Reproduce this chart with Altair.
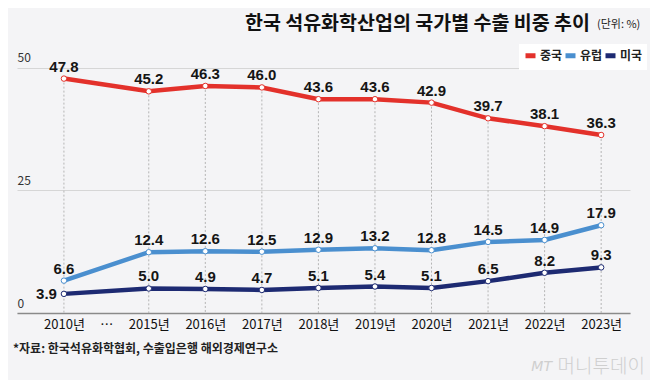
import altair as alt
import pandas as pd

years = ["2010", "2015", "2016", "2017", "2018", "2019", "2020", "2021", "2022", "2023"]
pos = [0, 1.5, 2.5, 3.5, 4.5, 5.5, 6.5, 7.5, 8.5, 9.5]
series = ["중국", "유럽", "미국"]
china = [47.8, 45.2, 46.3, 46.0, 43.6, 43.6, 42.9, 39.7, 38.1, 36.3]
europe = [6.6, 12.4, 12.6, 12.5, 12.9, 13.2, 12.8, 14.5, 14.9, 17.9]
usa = [3.9, 5.0, 4.9, 4.7, 5.1, 5.4, 5.1, 6.5, 8.2, 9.3]
colors = ["#e3312b", "#4a8fcf", "#1d2a72"]
axis_values = [0, 0.75, 1.5, 2.5, 3.5, 4.5, 5.5, 6.5, 7.5, 8.5, 9.5]

rows = []
for s, vals in zip(series, [china, europe, usa]):
    for y, p, v in zip(years, pos, vals):
        side = "left" if (s == "미국" and y == "2010") else "top"
        rows.append({"series": s, "year": y, "pos": p, "value": v,
                     "label": f"{v:.1f}", "side": side})
df = pd.DataFrame(rows)
top_df = pd.DataFrame({"pos": pos, "value": china})

FONT = "Noto Sans CJK KR"

xscale = alt.Scale(domain=[-0.83, 10.01], nice=False, zero=False)
yscale = alt.Scale(domain=[0, 52], nice=False)
cscale = alt.Scale(domain=series, range=colors)

xaxis = alt.Axis(
    values=axis_values, title=None, grid=False, ticks=False,
    labelExpr="datum.value == 0 ? '2010년' : (datum.value == 0.75 ? '…' : round(datum.value + 2013.5) + '년')",
    labelFont=FONT, labelFontSize=13, labelColor="#111", labelPadding=5,
    domainColor="#8a8a8a", domainWidth=1.5,
)
yaxis = alt.Axis(
    values=[0, 25, 50], title=None, ticks=False, domain=False,
    labelAlign="left", labelBaseline="bottom", labelPadding=0,
    labelOffset=-3, labelFont=FONT, labelFontSize=12, labelColor="#333",
    gridColor="#d6d6d6", gridWidth=1,
)

base = alt.Chart(df)

vrules = alt.Chart(top_df).mark_rule(
    color="#b5b5b5", strokeDash=[2, 2], strokeWidth=1
).encode(
    x=alt.X("pos:Q", scale=xscale, axis=xaxis),
    y=alt.Y("value:Q", scale=yscale, axis=yaxis),
    y2=alt.datum(0),
)

lines = base.mark_line(strokeWidth=4.5).encode(
    x=alt.X("pos:Q", scale=xscale, axis=xaxis),
    y=alt.Y("value:Q", scale=yscale, axis=yaxis),
    color=alt.Color("series:N", scale=cscale, sort=series, legend=alt.Legend(
        title=None, orient="none", legendX=502, legendY=-14,
        direction="horizontal", symbolType="stroke", symbolSize=100,
        symbolStrokeWidth=5, labelFont=FONT, labelFontSize=12,
        labelFontWeight="bold", labelColor="#222", fillColor="white",
        padding=4, columnPadding=-14, labelOffset=2,
    )),
    detail="series:N",
)

points = base.mark_point(filled=True, fill="white", size=30, strokeWidth=1, opacity=1).encode(
    x="pos:Q", y="value:Q",
    stroke=alt.Stroke("series:N", scale=cscale, legend=None),
)

labels_top = base.transform_filter("datum.side == 'top'").mark_text(
    dy=-12, font="Liberation Sans", fontSize=15, fontWeight="bold", color="#151515"
).encode(x="pos:Q", y="value:Q", text="label:N")

labels_left = base.transform_filter("datum.side == 'left'").mark_text(
    dx=-7, align="right", baseline="middle", font="Liberation Sans",
    fontSize=15, fontWeight="bold", color="#151515"
).encode(x="pos:Q", y="value:Q", text="label:N")

title = alt.Chart(pd.DataFrame({"t": ["한국 석유화학산업의 국가별 수출 비중 추이"]})).mark_text(
    align="right", baseline="middle", font=FONT, fontSize=19.5, fontWeight="bold", color="#111"
).encode(x=alt.value(573), y=alt.value(-34), text="t:N")

unit = alt.Chart(pd.DataFrame({"t": ["(단위: %)"]})).mark_text(
    align="left", baseline="middle", font=FONT, fontSize=11, color="#222"
).encode(x=alt.value(580), y=alt.value(-33), text="t:N")

source = alt.Chart(pd.DataFrame({"t": ["*자료: 한국석유화학협회, 수출입은행 해외경제연구소"]})).mark_text(
    align="left", baseline="middle", font=FONT, fontSize=12, fontWeight="bold", color="#222"
).encode(x=alt.value(-4), y=alt.value(291), text="t:N")

wm1 = alt.Chart(pd.DataFrame({"t": ["MT"]})).mark_text(
    align="right", baseline="middle", font="DejaVu Sans", fontSize=14, fontStyle="italic",
    color="#cfcfcf"
).encode(x=alt.value(535), y=alt.value(309), text="t:N")

wm2 = alt.Chart(pd.DataFrame({"t": ["머니투데이"]})).mark_text(
    align="right", baseline="middle", font=FONT, fontSize=19, fontWeight=300,
    color="#cfcfcf"
).encode(x=alt.value(628), y=alt.value(309), text="t:N")

chart = alt.layer(
    vrules, lines, points, labels_top, labels_left, title, unit, source, wm1, wm2
).properties(
    width=613, height=255, background="#f4f4f6",
    autosize=alt.AutoSizeParams(type="none"),
    padding={"left": 9, "top": 50, "right": 20, "bottom": 67},
).configure_view(stroke=None).resolve_scale(color="shared")

chart.save("out.html", embed_options={"renderer": "svg", "actions": False})
